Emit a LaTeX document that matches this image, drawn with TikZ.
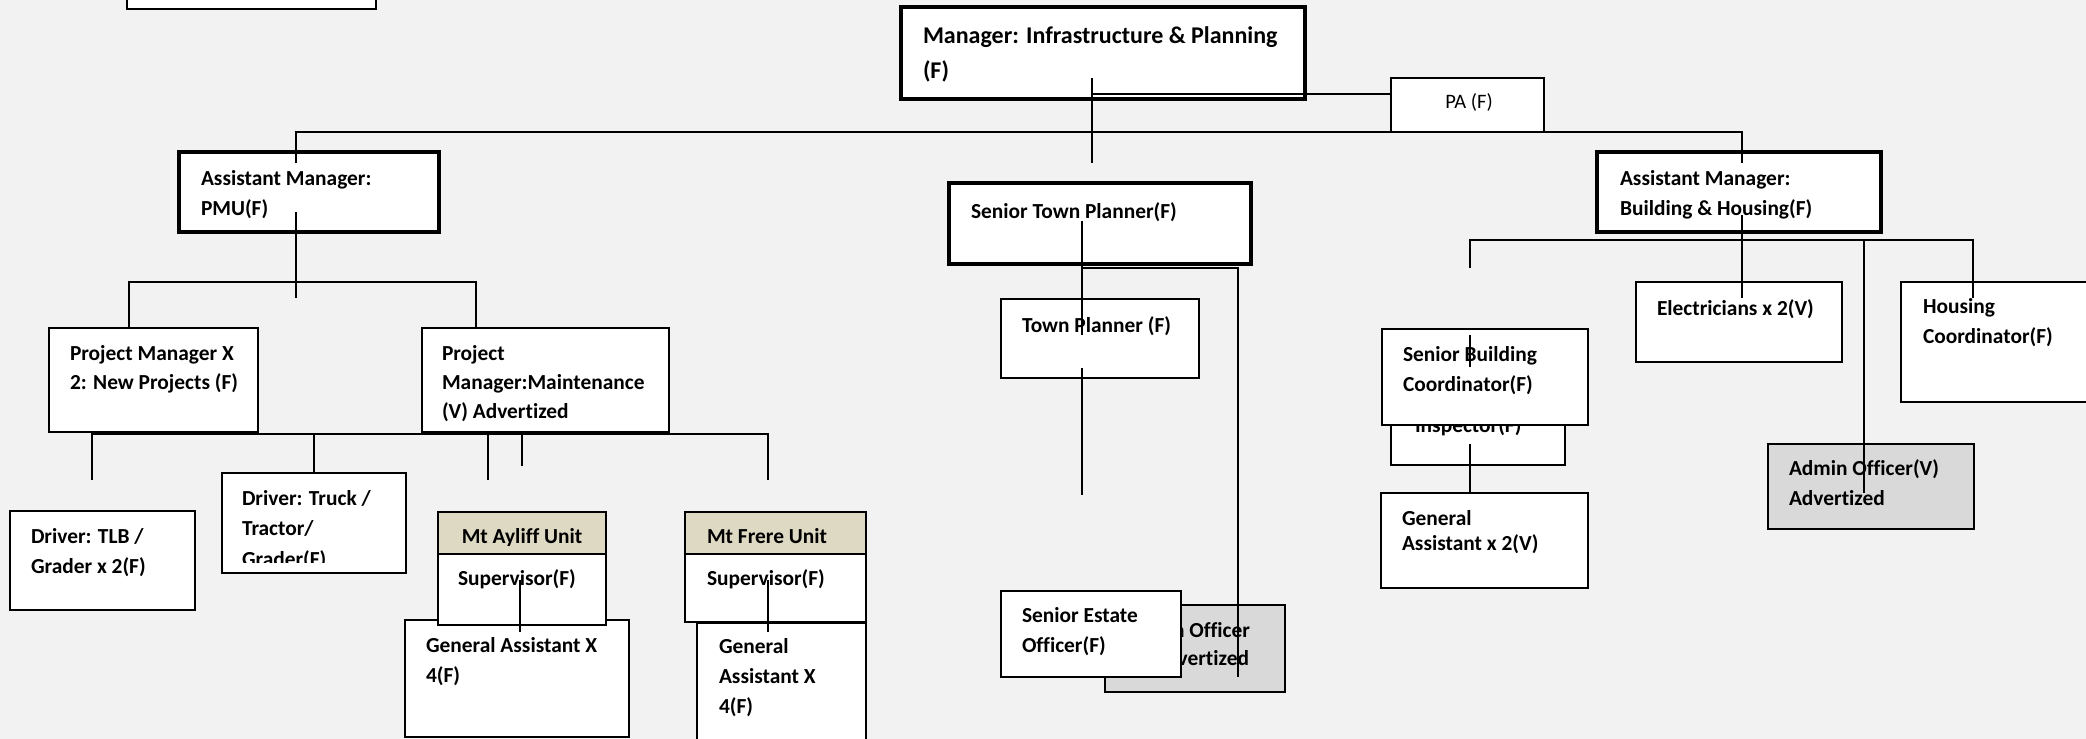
\documentclass[tikz,border=0pt]{standalone}
\usepackage{fontspec}
\setmainfont{Carlito}[Ligatures=NoCommon]
\definecolor{bgc}{HTML}{F2F2F2}
\definecolor{unitc}{HTML}{DDD9C3}
\definecolor{vacc}{HTML}{D9D9D9}
\tikzset{
  box/.style={draw=black, fill=white, line width=2pt, inner sep=0pt, outer sep=0pt, anchor=north west},
  bigbox/.style={box, line width=3.6pt},
  unitbox/.style={box, fill=unitc},
  vacbox/.style={box, fill=vacc},
  txt/.style={inner sep=0pt, outer sep=0pt, anchor=base west, font=\bfseries\fontsize{21.4}{25}\selectfont},
  bigtxt/.style={txt, font=\bfseries\fontsize{24}{28}\selectfont},
  patxt/.style={inner sep=0pt, anchor=base, font=\fontsize{20.5}{24}\selectfont},
  conn/.style={draw=black, line width=1.6pt}
}
\newcommand\tx[4]{\node[txt] (#1) at (#2,#3) {#4};}
\begin{document}
\begin{tikzpicture}[x=1pt,y=-1pt]
\fill[bgc] (0,0) rectangle (2086,739);
\useasboundingbox (0,0) rectangle (2086,739);

% ---- boxes ----
\node[box, line width=1.5pt, minimum width=249pt, minimum height=40pt] (topl) at (127,-31) {};
\node[bigbox, minimum width=404pt, minimum height=92pt] (mgr) at (901,7) {};
\node[box, minimum width=153pt, minimum height=54pt] (pa) at (1391,78) {};
\node[bigbox, minimum width=260pt, minimum height=80pt] (pmu) at (179,152) {};
\node[bigbox, minimum width=302pt, minimum height=81pt] (stp) at (949,183) {};
\node[bigbox, minimum width=284pt, minimum height=80pt] (amb) at (1597,152) {};
\node[box, minimum width=209pt, minimum height=104pt] (pm2) at (49,328) {};
\node[box, minimum width=247pt, minimum height=104pt] (pmm) at (422,328) {};
\node[box, minimum width=185pt, minimum height=99pt] (tlb) at (10,511) {};
\node[box, minimum width=184pt, minimum height=100pt] (dtr) at (222,473) {};
\node[box, minimum width=224pt, minimum height=117pt] (aga) at (405,620) {};
\node[unitbox, minimum width=168pt, minimum height=42pt] (ayh) at (438,512) {};
\node[box, minimum width=168pt, minimum height=71pt] (ays) at (438,554) {};
\node[unitbox, minimum width=181pt, minimum height=42pt] (frh) at (685,512) {};
\node[box, minimum width=181pt, minimum height=68pt] (frs) at (685,554) {};
\node[box, minimum width=169pt, minimum height=137pt] (fga) at (697,623) {};
\node[box, minimum width=198pt, minimum height=79pt] (tp) at (1001,299) {};
\node[vacbox, minimum width=180pt, minimum height=87pt] (ao1) at (1105,605) {};
\node[txt, anchor=base east] (t40) at (1250,637) {Admin Officer};
\node[txt, anchor=base east] (t41) at (1249,665) {Advertized};
\node[box, minimum width=180pt, minimum height=86pt] (seo) at (1001,591) {};
\node[box, minimum width=206pt, minimum height=80pt] (elec) at (1636,282) {};
\node[box, minimum width=209pt, minimum height=120pt] (hous) at (1901,282) {};
\node[box, minimum width=174pt, minimum height=125pt] (insp) at (1391,340) {};
\tx{t50}{1415}{432}{Inspector(F)}
\node[box, minimum width=206pt, minimum height=96pt] (sbc) at (1382,329) {};
\node[box, minimum width=207pt, minimum height=95pt] (gax) at (1381,493) {};
\node[vacbox, minimum width=206pt, minimum height=85pt] (adm) at (1768,444) {};

% ---- texts ----
\node[bigtxt] (t1) at (923,43) {Manager: Infrastructure \& Planning};
\node[bigtxt] (t2) at (923,78) {(F)};
\node[patxt] (t3) at (1469,108) {PA (F)};
\tx{t4}{201}{185}{Assistant Manager:}
\tx{t5}{201}{215}{PMU(F)}
\tx{t6}{971}{218}{Senior Town Planner(F)}
\tx{t7}{1620}{185}{Assistant Manager:}
\tx{t8}{1620}{215}{Building \& Housing(F)}
\tx{t9}{70}{360}{Project Manager X}
\tx{t10}{70}{389}{2: New Projects (F)}
\tx{t11}{442}{360}{Project}
\tx{t12}{442}{389}{Manager:Maintenance}
\tx{t13}{442}{418}{(V) Advertized}
\tx{t14}{31}{543}{Driver: TLB /}
\tx{t15}{31}{573}{Grader x 2(F)}
\tx{t16}{242}{505}{Driver: Truck /}
\tx{t17}{242}{535}{Tractor/}
\begin{scope}
\clip (222,473) rectangle (406,562);
\tx{t18}{242}{566}{Grader(F)}
\end{scope}
\begin{scope}
\clip (438,512) rectangle (606,545.5);
\node[txt, anchor=base] (t19) at (522,543) {Mt Ayliff Unit};
\end{scope}
\tx{t20}{458}{585}{Supervisor(F)}
\tx{t21}{426}{652}{General Assistant X}
\tx{t22}{426}{682}{4(F)}
\tx{t23}{707}{543}{Mt Frere Unit}
\tx{t24}{707}{585}{Supervisor(F)}
\tx{t25}{719}{653}{General}
\tx{t26}{719}{683}{Assistant X}
\tx{t27}{719}{713}{4(F)}
\tx{t28}{1022}{332}{Town Planner (F)}
\tx{t29}{1022}{622}{Senior Estate}
\tx{t30}{1022}{652}{Officer(F)}
\tx{t31}{1657}{315}{Electricians x 2(V)}
\tx{t32}{1923}{313}{Housing}
\tx{t33}{1923}{343}{Coordinator(F)}
\tx{t34}{1403}{361}{Senior Building}
\tx{t35}{1403}{391}{Coordinator(F)}
\tx{t36}{1402}{525}{General}
\tx{t37}{1402}{550}{Assistant x 2(V)}
\tx{t38}{1789}{475}{Admin Officer(V)}
\tx{t39}{1789}{505}{Advertized}

% ---- connector coordinates ----
\coordinate (m1) at (1092,78);  \coordinate (m2) at (1092,163);
\coordinate (p1) at (1092,94);
\coordinate (a1) at (296,163);  \coordinate (a2) at (296,132);
\coordinate (a3) at (1742,132); \coordinate (a4) at (1742,163);
\coordinate (b1) at (296,212);  \coordinate (b2) at (296,298);
\coordinate (c1) at (129,282);  \coordinate (c2) at (476,282);
\coordinate (d1) at (92,480);   \coordinate (d2) at (92,434);
\coordinate (d3) at (768,434);  \coordinate (d4) at (768,480);
\coordinate (d5) at (314,434);  \coordinate (d6) at (488,434);
\coordinate (d7) at (488,480);  \coordinate (d8) at (522,434);
\coordinate (d9) at (522,466);
\coordinate (e1) at (520,580);  \coordinate (e2) at (520,632);
\coordinate (f1) at (768,580);  \coordinate (f2) at (768,632);
\coordinate (g1) at (1082,221); \coordinate (g2) at (1082,335);
\coordinate (g3) at (1082,368); \coordinate (g4) at (1082,495);
\coordinate (h1) at (1082,268); \coordinate (h2) at (1238,268);
\coordinate (h3) at (1238,677);
\coordinate (k1) at (1742,215); \coordinate (k2) at (1742,298);
\coordinate (l1) at (1470,268); \coordinate (l2) at (1470,240);
\coordinate (l3) at (1973,240); \coordinate (l4) at (1973,298);
\coordinate (l5) at (1864,240); \coordinate (l6) at (1864,493);
\coordinate (n1) at (1470,335); \coordinate (n2) at (1470,367);
\coordinate (n3) at (1470,444); \coordinate (n4) at (1470,493);

% ---- connectors ----
\draw[conn] (m1) -- (m2);
\draw[conn] (p1) -- (p1 -| pa.west);
\draw[conn] (a1) -- (a2) -- (a3) -- (a4);
\draw[conn] (b1) -- (b2);
\draw[conn] (c1 |- pm2.north) -- (c1) -- (c2) -- (c2 |- pmm.north);
\draw[conn] (d1) -- (d2) -- (d3) -- (d4);
\draw[conn] (d5) -- (d5 |- dtr.north);
\draw[conn] (d6) -- (d7);
\draw[conn] (d8) -- (d9);
\draw[conn] (e1) -- (e2);
\draw[conn] (f1) -- (f2);
\draw[conn] (g1) -- (g2);
\draw[conn] (g3) -- (g4);
\draw[conn] (h1) -- (h2) -- (h3);
\draw[conn] (k1) -- (k2);
\draw[conn] (l1) -- (l2) -- (l3) -- (l4);
\draw[conn] (l5) -- (l6);
\draw[conn] (n1) -- (n2);
\draw[conn] (n3) -- (n4);
\end{tikzpicture}
\end{document}
